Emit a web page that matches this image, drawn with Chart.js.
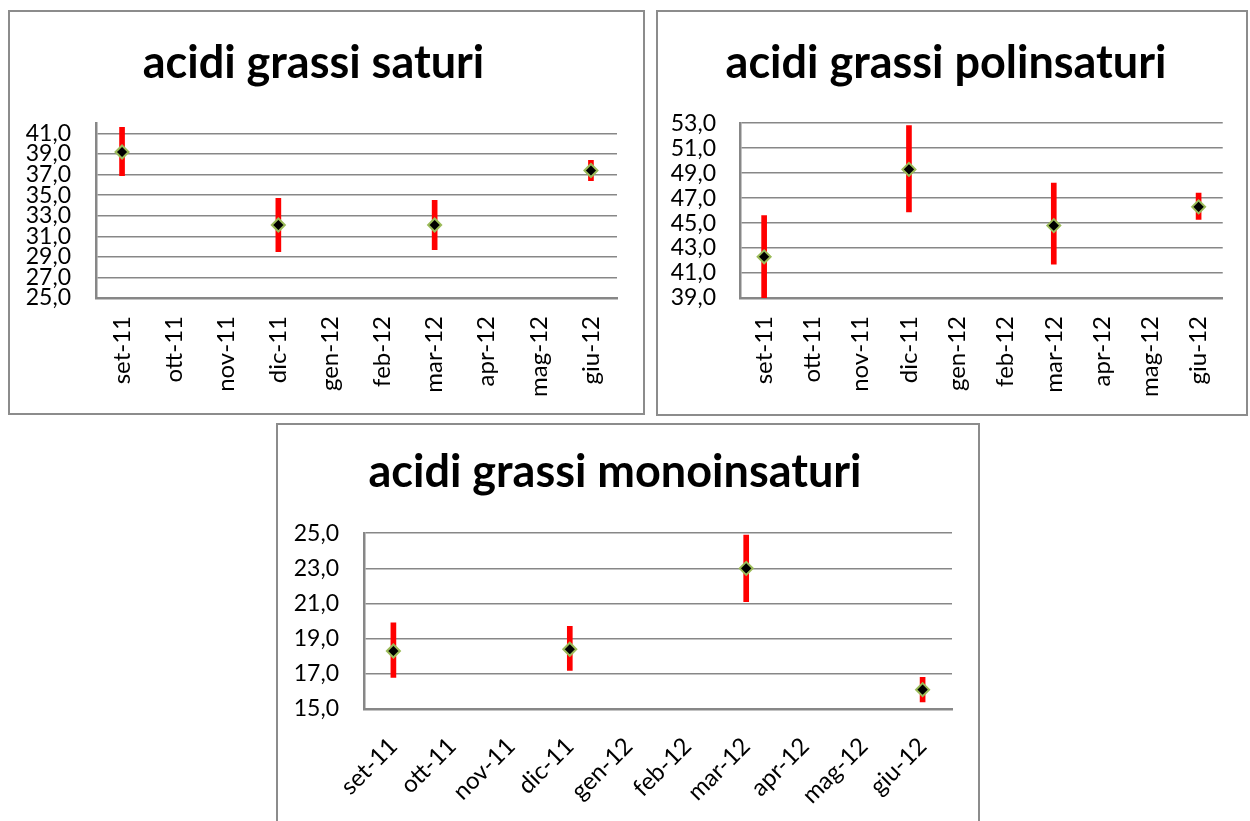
<!DOCTYPE html>
<html lang="it">
<head>
<meta charset="utf-8">
<title>Acidi grassi</title>
<script src="https://cdn.jsdelivr.net/npm/chart.js@4.4.0/dist/chart.umd.min.js"></script>
<style>
  html, body { margin: 0; padding: 0; background: #fff; }
  body { width: 1250px; height: 821px; position: relative; overflow: hidden; }
  .riquadro { position: absolute; box-sizing: border-box; border: 2px solid #8c8c8c; background: #fff; }
  .riquadro canvas { display: block; }
</style>
</head>
<body>
<div class="riquadro" style="left:8px;top:10px;width:637px;height:405px;">
  <canvas id="saturi" width="633" height="401"></canvas>
</div>
<div class="riquadro" style="left:656px;top:10px;width:592px;height:406px;">
  <canvas id="polinsaturi" width="588" height="402"></canvas>
</div>
<div class="riquadro" style="left:276px;top:423px;width:704px;height:404px;">
  <canvas id="monoinsaturi" width="700" height="400"></canvas>
</div>
<script>
// Mesi di campionamento
const mesi = ['set-11', 'ott-11', 'nov-11', 'dic-11', 'gen-12', 'feb-12', 'mar-12', 'apr-12', 'mag-12', 'giu-12'];

// Acidi grassi saturi: media, minimo e massimo
const saturiMedia = [39.2, null, null, 32.1, null, null, 32.1, null, null, 37.4];
const saturiMin   = [36.9, null, null, 29.5, null, null, 29.7, null, null, 36.4];
const saturiMax   = [41.6, null, null, 34.7, null, null, 34.5, null, null, 38.4];
const saturiTicks = [25, 27, 29, 31, 33, 35, 37, 39, 41];

// Acidi grassi polinsaturi
const polinsaturiMedia = [42.3, null, null, 49.3, null, null, 44.8, null, null, 46.3];
const polinsaturiMin   = [39.0, null, null, 45.9, null, null, 41.7, null, null, 45.3];
const polinsaturiMax   = [45.6, null, null, 52.8, null, null, 48.2, null, null, 47.4];
const polinsaturiTicks = [39, 41, 43, 45, 47, 49, 51, 53];

// Acidi grassi monoinsaturi
const monoMedia = [18.3, null, null, 18.4, null, null, 23.0, null, null, 16.1];
const monoMin   = [16.8, null, null, 17.2, null, null, 21.1, null, null, 15.4];
const monoMax   = [19.9, null, null, 19.7, null, null, 24.9, null, null, 16.8];
const monoTicks = [15, 17, 19, 21, 23, 25];

const GRIGIO = '#878787';
const FONT = 'Lato';

function creaGrafico(id, titolo, media, minimi, massimi, tacche, yMin, yMax, g) {
  // barre flottanti rosse per l'intervallo min–max
  const intervalli = minimi.map((v, i) => v === null ? null : [v, massimi[i]]);
  return new Chart(document.getElementById(id), {
    type: 'bar',
    data: {
      labels: mesi,
      datasets: [
        {
          type: 'line',
          data: media,
          showLine: false,
          pointStyle: 'rectRot',
          pointRadius: 6.5,
          pointHoverRadius: 6.5,
          pointBackgroundColor: '#000000',
          pointBorderColor: '#9bbb59',
          pointBorderWidth: 2,
          order: 1
        },
        {
          type: 'bar',
          data: intervalli,
          backgroundColor: '#ff0000',
          borderWidth: 0,
          barThickness: 5,
          order: 2
        }
      ]
    },
    options: {
      responsive: false,
      animation: false,
      devicePixelRatio: 1,
      events: [],
      layout: { padding: { left: 0, right: g.destra, top: 0, bottom: 0 } },
      plugins: {
        legend: { display: false },
        tooltip: { enabled: false },
        title: {
          display: true,
          text: titolo,
          color: '#000000',
          font: { family: FONT, size: 45, weight: 'bold', lineHeight: 1.2 },
          padding: { top: g.titoloSopra, bottom: g.titoloSotto }
        }
      },
      scales: {
        x: {
          offset: true,
          grid: { display: false, drawTicks: false },
          border: { display: true, color: GRIGIO, width: 2.5 },
          ticks: {
            color: '#000000',
            font: { family: FONT, size: 24 },
            minRotation: g.rotazione,
            maxRotation: g.rotazione,
            autoSkip: false,
            padding: g.xPad
          },
          afterFit: s => { s.height = g.altezzaX; }
        },
        y: {
          min: yMin,
          max: yMax,
          afterBuildTicks: s => { s.ticks = tacche.map(v => ({ value: v })); },
          grid: { color: GRIGIO, lineWidth: 1.5, drawTicks: false, tickLength: 0 },
          border: { display: true, color: GRIGIO, width: 2.5 },
          ticks: {
            color: '#000000',
            font: { family: FONT, size: 23 },
            autoSkip: false,
            padding: g.yPad,
            callback: v => Number(v).toFixed(1).replace('.', ',')
          },
          afterFit: s => { s.width = g.larghezzaY; }
        }
      }
    }
  });
}

creaGrafico('saturi', 'acidi grassi saturi', saturiMedia, saturiMin, saturiMax, saturiTicks, 25, 42,
  { destra: 26, titoloSopra: 24.6, titoloSotto: 32.6, rotazione: 90, xPad: 18, altezzaX: 115, yPad: 25, larghezzaY: 86 });

creaGrafico('polinsaturi', 'acidi grassi polinsaturi', polinsaturiMedia, polinsaturiMin, polinsaturiMax, polinsaturiTicks, 39, 53,
  { destra: 12, titoloSopra: 24.6, titoloSotto: 32.6, rotazione: 90, xPad: 18, altezzaX: 116, yPad: 24, larghezzaY: 82 });

creaGrafico('monoinsaturi', 'acidi grassi monoinsaturi', monoMedia, monoMin, monoMax, monoTicks, 15, 25,
  { destra: 26, titoloSopra: 20.6, titoloSotto: 33.6, rotazione: 45, xPad: 23, altezzaX: 116, yPad: 25, larghezzaY: 86 });
</script>
</body>
</html>
